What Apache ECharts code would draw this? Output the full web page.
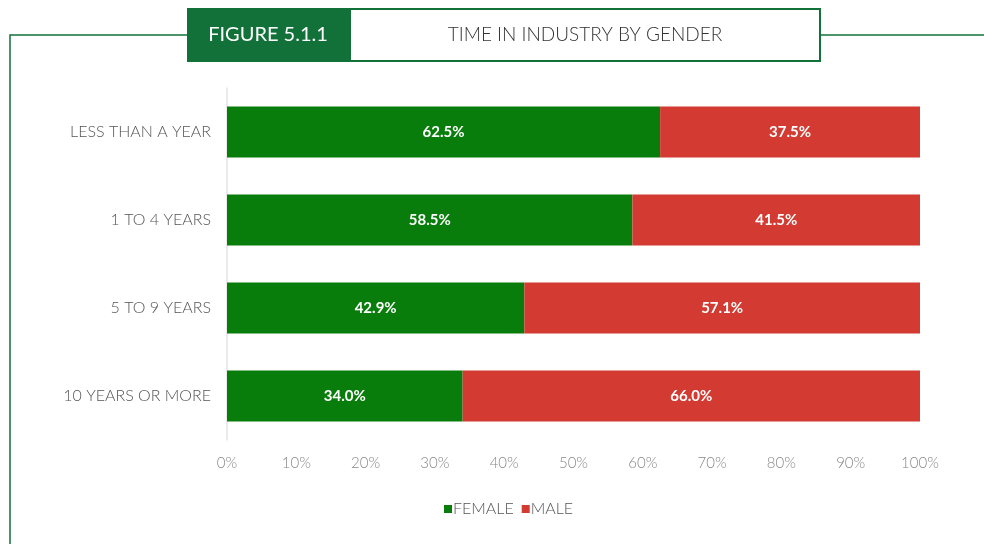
<!DOCTYPE html>
<html>
<head>
<meta charset="utf-8">
<script src="https://cdn.jsdelivr.net/npm/echarts@6/dist/echarts.min.js"></script>
<style>
  html, body { margin: 0; padding: 0; background: #fff; }
  #chart { width: 984px; height: 544px; }
</style>
</head>
<body>
<div id="chart"></div>
<script>
const categories = ['LESS THAN A YEAR', '1 TO 4 YEARS', '5 TO 9 YEARS', '10 YEARS OR MORE']
const female = [62.5, 58.5, 42.9, 34.0]
const male = [37.5, 41.5, 57.1, 66.0]
const figureLabel = 'FIGURE 5.1.1'
const figureTitle = 'TIME IN INDUSTRY BY GENDER'

const FONT = 'Lato, "Noto Sans", sans-serif'
const GREEN = '#087d0b'
const RED = '#d23a32'
const DARK = '#117139'

const chart = echarts.init(document.getElementById('chart'), null, { renderer: 'canvas' })

const barLabel = {
  show: true,
  position: 'inside',
  color: '#fff',
  fontFamily: FONT,
  fontSize: 15,
  fontWeight: 'bold',
  formatter: p => p.value.toFixed(1) + '%',
}

chart.setOption({
  animation: false,
  textStyle: { fontFamily: FONT },
  graphic: [
    // frame lines
    { type: 'polyline', shape: { points: [[10, 544], [10, 35], [187, 35]] }, style: { stroke: DARK, lineWidth: 1.5, fill: null } },
    { type: 'line', shape: { x1: 820, y1: 35, x2: 984, y2: 35 }, style: { stroke: DARK, lineWidth: 1.5 } },
    // header boxes
    { type: 'rect', shape: { x: 187, y: 8, width: 163, height: 54 }, style: { fill: DARK } },
    { type: 'rect', shape: { x: 350, y: 9, width: 470, height: 52 }, style: { fill: '#fff', stroke: DARK, lineWidth: 2 } },
    { type: 'text', x: 268, y: 35, style: { text: figureLabel, fill: '#fff', font: '20px ' + FONT, align: 'center', verticalAlign: 'middle' } },
    { type: 'text', x: 585, y: 35, style: { text: figureTitle, fill: '#333', font: '300 19px ' + FONT, align: 'center', verticalAlign: 'middle' } },
  ],
  legend: {
    data: ['FEMALE', 'MALE'],
    top: 496,
    left: 439,
    itemWidth: 8,
    itemHeight: 8,
    itemGap: 8,
    icon: 'rect',
    textStyle: { color: '#555', fontSize: 16, fontFamily: FONT, fontWeight: 300, padding: [0, 0, 0, -4] },
  },
  grid: { left: 227, right: 64, top: 88, bottom: 104 },
  xAxis: {
    type: 'value',
    min: 0, max: 100, interval: 10,
    axisLine: { show: false },
    axisTick: { show: false },
    splitLine: { show: false },
    axisLabel: { color: '#888', fontSize: 15, fontWeight: 300, margin: 16, formatter: '{value}%' },
  },
  yAxis: {
    type: 'category',
    inverse: true,
    data: categories,
    axisLine: { lineStyle: { color: '#e4e4e4', width: 1.5 } },
    axisTick: { show: false },
    axisLabel: { color: '#555', fontSize: 16, fontWeight: 300, margin: 16 },
  },
  series: [
    {
      name: 'FEMALE', type: 'bar', stack: 'total', data: female,
      barWidth: 51,
      itemStyle: { color: GREEN },
      label: barLabel,
    },
    {
      name: 'MALE', type: 'bar', stack: 'total', data: male,
      barWidth: 51,
      itemStyle: { color: RED },
      label: barLabel,
    },
  ],
})
</script>
</body>
</html>
